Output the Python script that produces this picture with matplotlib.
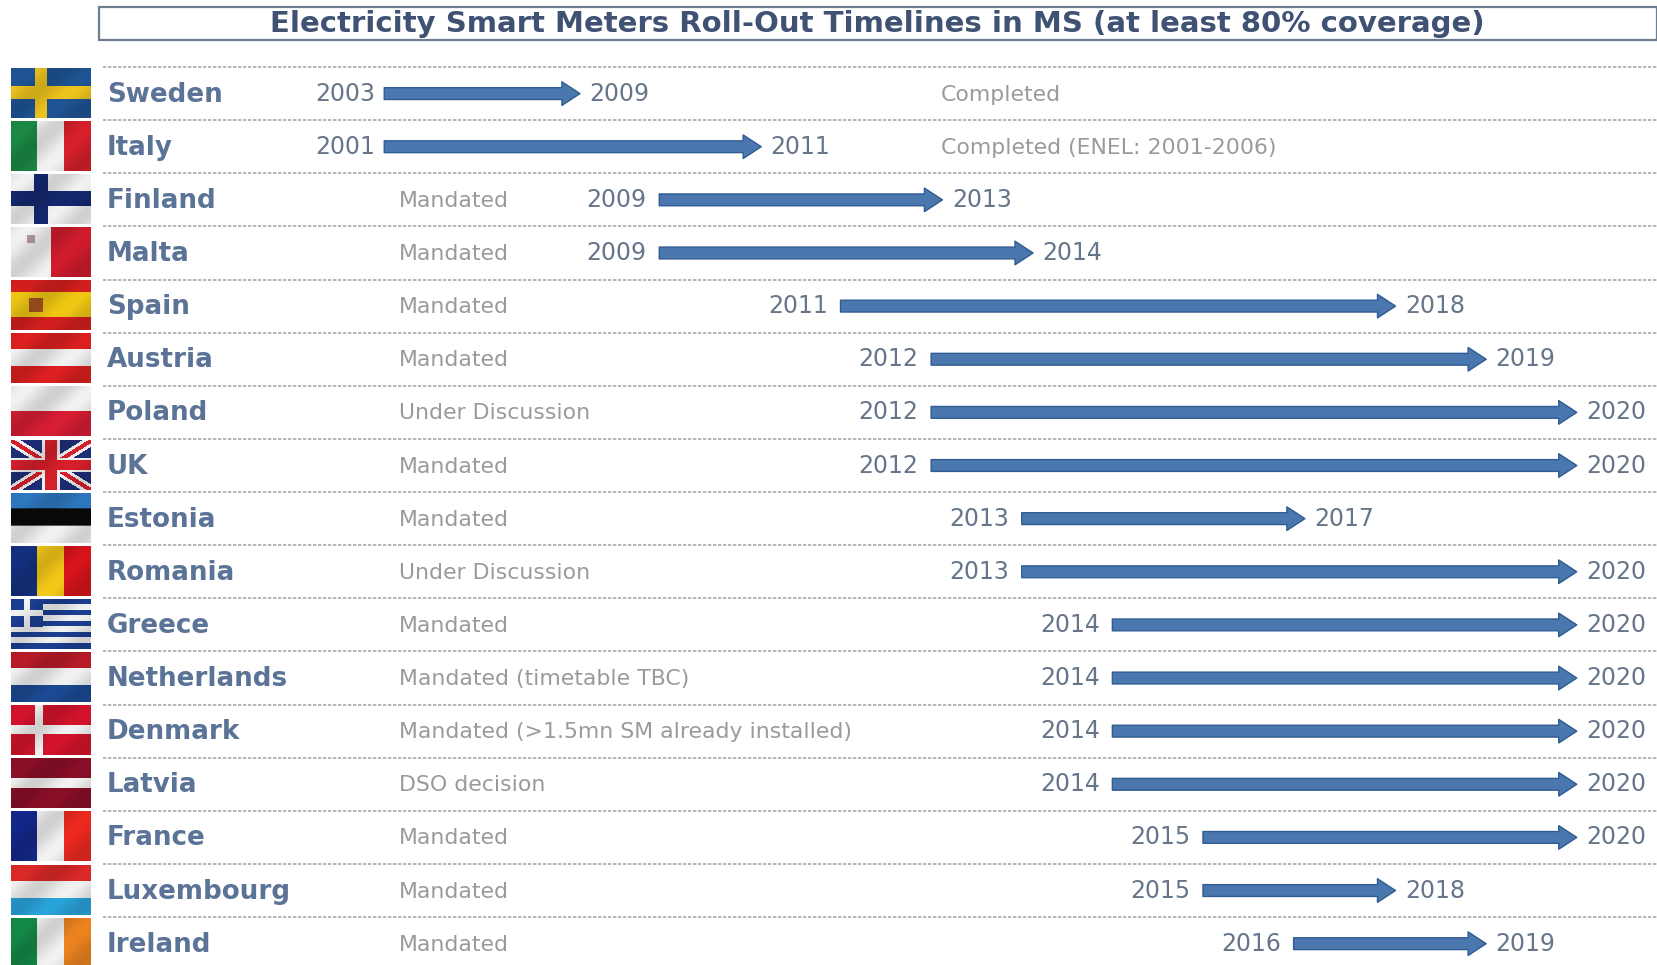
import numpy as np
import matplotlib
matplotlib.use("Agg")
import matplotlib.pyplot as plt
from matplotlib.colors import to_rgb
from matplotlib.patches import FancyArrowPatch, Rectangle

countries = ["Sweden", "Italy", "Finland", "Malta", "Spain", "Austria", "Poland", "UK", "Estonia",
             "Romania", "Greece", "Netherlands", "Denmark", "Latvia", "France", "Luxembourg", "Ireland"]
start_years = [2003, 2001, 2009, 2009, 2011, 2012, 2012, 2012, 2013, 2013, 2014, 2014, 2014, 2014, 2015, 2015, 2016]
end_years = [2009, 2011, 2013, 2014, 2018, 2019, 2020, 2020, 2017, 2020, 2020, 2020, 2020, 2020, 2020, 2018, 2019]
statuses = ["Completed", "Completed (ENEL: 2001-2006)", "Mandated", "Mandated", "Mandated", "Mandated",
            "Under Discussion", "Mandated", "Mandated", "Under Discussion", "Mandated",
            "Mandated (timetable TBC)", "Mandated (>1.5mn SM already installed)", "DSO decision",
            "Mandated", "Mandated", "Mandated"]
title = "Electricity Smart Meters Roll-Out Timelines in MS (at least 80% coverage)"

W, H = 1658, 965
NAME_COLOR = "#5a7396"
YEAR_COLOR = "#66768a"
STATUS_COLOR = "#9a9a9a"
FONT = "DejaVu Sans"

# flag drawing
FW, FH = 80, 50
BLUE, RED, WHITE, YELLOW = "#1c3f94", "#d8202c", "#f2f2f2", "#f5c918"


def stripes(cols, vertical=False):
    img = np.zeros((FH, FW, 3))
    n = len(cols)
    for i, c in enumerate(cols):
        if vertical:
            img[:, i * FW // n:(i + 1) * FW // n] = to_rgb(c)
        else:
            img[i * FH // n:(i + 1) * FH // n, :] = to_rgb(c)
    return img


def cross(bg, fg, cx=30, t=12):
    img = stripes([bg])
    img[(FH - t) // 2:(FH + t) // 2, :] = to_rgb(fg)
    img[:, cx - t // 2:cx + t // 2] = to_rgb(fg)
    return img


def malta():
    img = stripes([WHITE, "#d01c2c"], vertical=True)
    img[8:16, 16:24] = to_rgb("#b09a9a")
    return img


def spain():
    img = stripes(["#d3201f", "#f0c814", "#f0c814", "#d3201f"])
    img[18:32, 18:32] = to_rgb("#a8551f")
    return img


def uk():
    img = stripes(["#1f2f78"])
    yy, xx = np.mgrid[0:FH, 0:FW]
    d1 = np.abs(yy - xx * FH / FW)
    d2 = np.abs(yy - (FW - xx) * FH / FW)
    img[(d1 < 6) | (d2 < 6)] = to_rgb(WHITE)
    img[(d1 < 2.5) | (d2 < 2.5)] = to_rgb(RED)
    img[18:32, :] = to_rgb(WHITE)
    img[:, 31:49] = to_rgb(WHITE)
    img[20:30, :] = to_rgb(RED)
    img[:, 34:46] = to_rgb(RED)
    return img


def greece():
    img = stripes([BLUE if i % 2 == 0 else WHITE for i in range(9)])
    img[:28, :32] = to_rgb(BLUE)
    img[11:17, :32] = to_rgb(WHITE)
    img[:28, 13:19] = to_rgb(WHITE)
    return img


flags = {
    "Sweden": cross("#1f5596", "#eec41f", cx=30, t=13),
    "Italy": stripes(["#1c8a45", WHITE, "#d8202c"], vertical=True),
    "Finland": cross(WHITE, "#14286f", cx=30, t=15),
    "Malta": malta(),
    "Spain": spain(),
    "Austria": stripes(["#dd2020", WHITE, "#dd2020"]),
    "Poland": stripes([WHITE, "#d81e34"]),
    "UK": uk(),
    "Estonia": stripes(["#2f78c0", "#0a0a0a", WHITE]),
    "Romania": stripes(["#14307f", YELLOW, "#d8141c"], vertical=True),
    "Greece": greece(),
    "Netherlands": stripes(["#b81c28", WHITE, "#1c4a94"]),
    "Denmark": cross("#d4142c", WHITE, cx=28, t=9),
    "Latvia": stripes(["#8a0f28", "#8a0f28", WHITE, "#8a0f28", "#8a0f28"]),
    "France": stripes(["#14288c", WHITE, "#ee2a20"], vertical=True),
    "Luxembourg": stripes(["#dc2a28", WHITE, "#2aa4dc"]),
    "Ireland": stripes(["#148a48", WHITE, "#ee8420"], vertical=True),
}

fig = plt.figure(figsize=(W / 100, H / 100), dpi=100, facecolor="white")
ax = fig.add_axes([0, 0, 1, 1])

# x axis in years, y axis in table rows
px_per_year = 90.62
px_per_row = 53.13
ax.set_xlim(2002.60, 2002.60 + W / px_per_year)
ax.set_ylim((H - 93.6) / px_per_row, -93.6 / px_per_row)
ax.axis("off")

# rolled-out-earlier rows are squeezed against the status column
first_arrow = 2006.84
first_label = 2006.74
row_tf = ax.get_yaxis_transform()

ax.add_patch(Rectangle((99 / W, 1 - 40 / H), (W - 100) / W, 33 / H, transform=ax.transAxes,
                       facecolor="white", edgecolor="#6f7d8e", linewidth=1.6, clip_on=False))
ax.text(877 / W, 1 - 24 / H, title, transform=ax.transAxes, ha="center", va="center",
        fontsize=21, fontweight="bold", color="#3f5274", family=FONT)

for i in range(len(countries)):
    ax.plot([103 / W, 1], [i - 0.5, i - 0.5], transform=row_tf, color="#a9a9a9", lw=1.2,
            linestyle=(0, (2, 1)))

    name = countries[i]
    ax.text(107 / W, i + 0.02, name, transform=row_tf, va="center", fontsize=18.8, fontweight="bold",
            color=NAME_COLOR, family=FONT)

    status_x = 941 / W if statuses[i].startswith("Completed") else 399 / W
    ax.text(status_x, i + 0.02, statuses[i], transform=row_tf, va="center", fontsize=15.8,
            color=STATUS_COLOR, family=FONT)

    x0 = max(start_years[i] + 0.875, first_arrow)
    arrow = FancyArrowPatch((x0, i), (end_years[i], i),
                            arrowstyle="simple,tail_width=8.5,head_width=17,head_length=13",
                            mutation_scale=1, shrinkA=0, shrinkB=0,
                            facecolor="#4a77ad", edgecolor="#2f5c92", linewidth=1)
    ax.add_patch(arrow)

    ax.text(max(start_years[i] + 0.735, first_label), i, str(start_years[i]), ha="right", va="center",
            fontsize=17, color=YEAR_COLOR, family=FONT)
    ax.text(end_years[i] + 0.105, i, str(end_years[i]), ha="left", va="center",
            fontsize=17, color=YEAR_COLOR, family=FONT)

    # flag with a soft diagonal wave
    yy, xx = np.mgrid[0:FH, 0:FW]
    wave = 0.93 + 0.07 * np.sin((xx / FW * 2.4 + yy / FH * 1.6) * np.pi)
    cy = 93.6 + i * px_per_row
    fax = fig.add_axes([11 / W, 1 - (cy + 24) / H, FW / W, FH / H])
    fax.imshow(np.clip(flags[name] * wave[..., None], 0, 1), aspect="auto", interpolation="bilinear")
    fax.axis("off")

fig.savefig("out.png", dpi=100, facecolor="white")
